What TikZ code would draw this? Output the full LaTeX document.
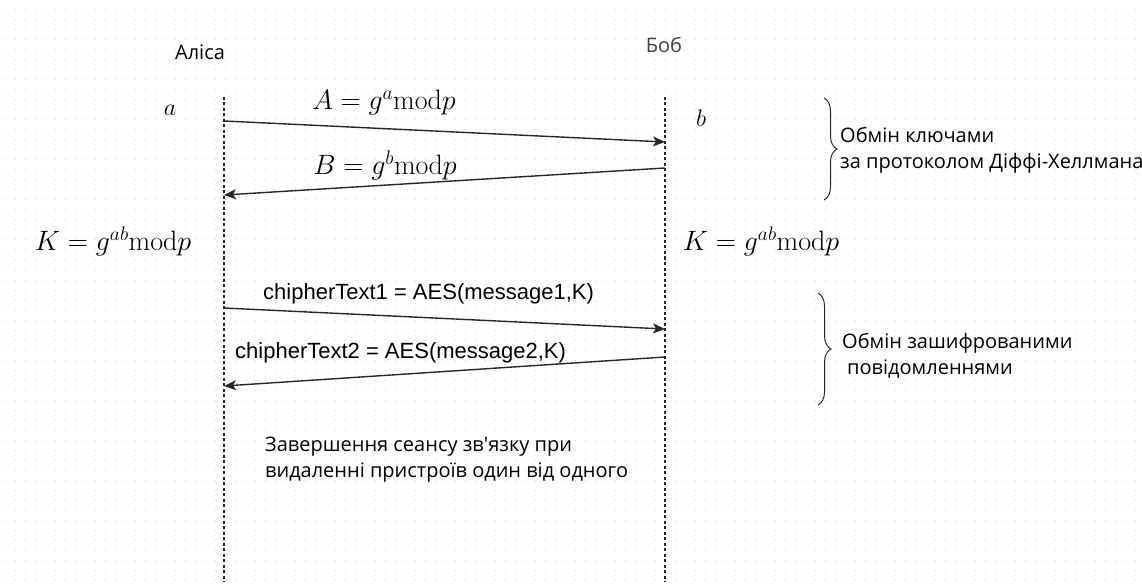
\RequirePackage{fix-cm}
\documentclass[tikz,border=0pt]{standalone}
\usepackage{fontspec}
\newfontfamily\uafont{Open Sans}
\newfontfamily\arialfont{Liberation Sans}
\usepackage{tikz}
\usetikzlibrary{arrows.meta, decorations.pathreplacing}
\tikzstyle{arrow}    = [line width=1.4pt,black!85,-{Stealth[length=12pt,width=10pt,inset=3pt]}]

\begin{document}
\begin{tikzpicture}[
    x=1pt, y=-1pt,
    txt/.style={font=\uafont\fontsize{20}{26}\selectfont, inner sep=0pt},
    msg/.style={font=\arialfont\fontsize{22}{26}\selectfont, inner sep=0pt},
    frm/.style={font=\fontsize{28}{32}\selectfont, inner sep=0pt},
    var/.style={font=\fontsize{24}{28}\selectfont, inner sep=0pt},
    life/.style={line width=1.2pt, black!85, dash pattern=on 3pt off 2.5pt},
    brc/.style={decorate, decoration={brace, amplitude=#1}, line width=1pt, black!85},
  ]
  \useasboundingbox (0,0) rectangle (1142,585);
  % grid of dots
  \foreach \y in {10,20,...,580}
    \draw[black!18, line width=1pt, dash pattern=on 1pt off 9pt] (5,\y) -- (1142,\y);

  % participants
  \node[txt] (alice) at (200,52) {Аліса};
  \node[txt, text=black!75] (bob) at (664,45) {Боб};
  \coordinate (atop) at (224,97);
  \coordinate (abot) at (224,582);
  \coordinate (btop) at (665,97);
  \coordinate (bbot) at (665,582);
  \draw[life] (atop) -- (abot);
  \draw[life] (btop) -- (bbot);

  \node[var] (sa) at (170,110) {$a$};
  \node[var] (sb) at (701,118) {$b$};

  % key exchange
  \coordinate (a1) at (224,121);
  \coordinate (b1) at (665,142);
  \coordinate (b2) at (665,168);
  \coordinate (a2) at (224,195);
  \draw[arrow] (a1) -- (b1);
  \draw[arrow] (b2) -- (a2);
  \node[frm] (pubA) at (384,103) {$A = g^a\mathrm{mod}p$};
  \node[frm] (pubB) at (385,165) {$B = g^b\mathrm{mod}p$};

  \node[frm] (ka) at (113,241) {$K = g^{ab}\mathrm{mod}p$};
  \node[frm] (kb) at (761,241) {$K = g^{ab}\mathrm{mod}p$};

  \draw[brc=13pt] (824,98) -- (824,200);
  \node[txt, anchor=west, align=left] (dh) at (840,150)
    {Обмін ключами\\за протоколом Діффі-Хеллмана};

  % encrypted messages
  \coordinate (a3) at (224,308);
  \coordinate (b3) at (665,329);
  \coordinate (b4) at (665,357);
  \coordinate (a4) at (224,386);
  \draw[arrow] (a3) -- (b3);
  \draw[arrow] (b4) -- (a4);
  \node[msg, anchor=west] (ct1) at (263,294) {chipherText1 = AES(message1,K)};
  \node[msg, anchor=west] (ct2) at (235,353) {chipherText2 = AES(message2,K)};

  \draw[brc=13pt] (818,293) -- (818,405);
  \node[txt, anchor=west, align=left] (enc) at (842,356)
    {Обмін зашифрованими\\\hspace*{5pt}повідомленнями};

  \node[txt, anchor=west, align=left] (fin) at (265,460)
    {Завершення сеансу зв{\char"27}язку при\\видаленні пристроїв один від одного};
\end{tikzpicture}
\end{document}
